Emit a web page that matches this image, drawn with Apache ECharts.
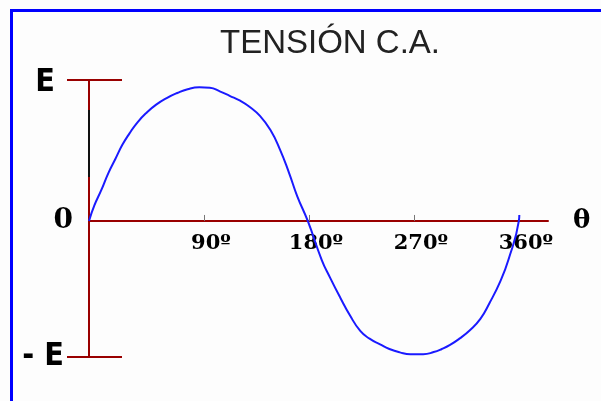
<!DOCTYPE html>
<html>
<head>
<meta charset="utf-8">
<script src="https://cdn.jsdelivr.net/npm/echarts@6/dist/echarts.min.js"></script>
<style>
  html, body { margin: 0; padding: 0; background: #fdfdfd; }
  #chart { width: 601px; height: 401px; }
</style>
</head>
<body>
<div id="chart"></div>
<script>
// Phase angle (degrees) of each sampled point along the wave
const thetaDeg = [-8.6, -4, 2, 8, 14, 20, 26, 33, 41, 49, 58, 67, 76, 86,
  95, 104, 112, 121, 129, 138, 147, 155, 163, 170, 179, 191, 198, 207,
  215, 224, 232, 241, 249, 258, 267, 278, 287, 294, 301, 309, 318, 327, 335,
  344, 351, 360, 360.4];
// Voltage of each point, as a fraction of the peak value E
const voltage = [0, 0.11, 0.22, 0.34, 0.44, 0.54, 0.62, 0.70, 0.77, 0.825, 0.872, 0.908, 0.935, 0.948,
  0.945, 0.918, 0.888, 0.853, 0.81, 0.745, 0.645, 0.51, 0.34, 0.175, 0, -0.277, -0.40, -0.546,
  -0.667, -0.78, -0.835, -0.875, -0.908, -0.932, -0.945, -0.945, -0.93, -0.908, -0.879, -0.835, -0.775, -0.695, -0.58,
  -0.43, -0.277, 0, 0.043];

// Angle ticks and their labels
const angleTicks = [90, 180, 270, 360];
const angleLabels = ['90º', '180º', '270º', '360º'];

// Voltage axis levels: +E, 0, -E
const levelValues = [1, 0, -0.965];
const levelLabels = ['E', '0', '- E'];

// Dark stretch of the voltage axis
const axisDarkPart = [0.787, 0.312];

const thetaMin = -8.6, thetaMax = 385;
const red = '#990000';

// Plot box
const gridTop = 80, gridBottom = 44, chartH = 401;
const plotH = chartH - gridTop - gridBottom;
// Lift the angle axis from the bottom edge up to the zero level
const zeroLift = plotH * (0 - levelValues[2]) / (levelValues[0] - levelValues[2]);

const wave = thetaDeg.map((t, i) => [t, voltage[i]]);

const chart = echarts.init(document.getElementById('chart'), null, { renderer: 'canvas' });

const levelFormatter = function (v) {
  const i = levelValues.indexOf(v);
  if (i === 1) return '{z|' + levelLabels[i] + '}';
  if (i === 0) return '{e|' + levelLabels[i] + '}';
  return '{ne|' + levelLabels[i] + '}';
};

const sansNarrow = 'DejaVu Sans Condensed, Liberation Sans Narrow, Liberation Sans';

chart.setOption({
  backgroundColor: '#fdfdfd',
  animation: false,
  title: {
    text: 'TENSIÓN C.A.',
    left: 215,
    top: 22,
    textStyle: {
      fontFamily: 'Liberation Sans',
      fontWeight: 'normal',
      fontSize: 33,
      color: '#222'
    }
  },
  graphic: [
    { type: 'rect', left: 10, top: 9, shape: { width: 3, height: 392 }, style: { fill: '#0000ff' } },
    { type: 'rect', left: 10, top: 9, shape: { width: 591, height: 3 }, style: { fill: '#0000ff' } }
  ],
  grid: { left: 89, right: 53, top: gridTop, bottom: gridBottom, containLabel: false, outerBoundsMode: 'none' },
  xAxis: {
    type: 'value',
    min: thetaMin,
    max: thetaMax,
    position: 'bottom',
    offset: -zeroLift,
    name: 'θ',
    nameLocation: 'end',
    nameGap: 25,
    nameTextStyle: {
      fontFamily: 'DejaVu Serif',
      fontWeight: 'bold',
      fontSize: 26,
      color: '#000',
      verticalAlign: 'middle'
    },
    axisLine: { onZero: false, lineStyle: { color: red, width: 2 } },
    axisTick: {
      show: true,
      inside: true,
      length: 6,
      customValues: angleTicks,
      lineStyle: { color: '#777', width: 1 }
    },
    axisLabel: {
      show: true,
      customValues: angleTicks,
      margin: 12,
      formatter: function (v) { return angleLabels[angleTicks.indexOf(v)]; },
      fontFamily: 'DejaVu Serif',
      fontWeight: 'bold',
      fontSize: 21,
      color: '#000',
      padding: [0, 0, 0, 14]
    },
    splitLine: { show: false }
  },
  yAxis: [
    {
      type: 'value',
      min: levelValues[2],
      max: levelValues[0],
      axisLine: { show: true, onZero: false, lineStyle: { color: red, width: 2 } },
      axisTick: {
        show: true,
        inside: false,
        length: 22,
        customValues: [levelValues[0], levelValues[2]],
        lineStyle: { color: red, width: 2 }
      },
      axisLabel: {
        show: true,
        customValues: levelValues,
        margin: 16,
        formatter: levelFormatter,
        rich: {
          e: { fontFamily: sansNarrow, fontWeight: 'bold', fontSize: 32, color: '#000', padding: [6, 18, 0, 0] },
          ne: { fontFamily: sansNarrow, fontWeight: 'bold', fontSize: 32, color: '#000', padding: [0, 9, 0, 0] },
          z: { fontFamily: 'DejaVu Serif', fontWeight: 'bold', fontSize: 28, color: '#000' }
        }
      },
      splitLine: { show: false }
    },
    {
      type: 'value',
      min: levelValues[2],
      max: levelValues[0],
      position: 'left',
      axisLine: { show: false, onZero: false },
      axisTick: {
        show: true,
        inside: true,
        length: 33,
        customValues: [levelValues[0], levelValues[2]],
        lineStyle: { color: red, width: 2 }
      },
      axisLabel: { show: false },
      splitLine: { show: false }
    }
  ],
  series: [
    {
      name: 'axisDark',
      type: 'line',
      data: axisDarkPart.map(v => [thetaMin, v]),
      clip: false,
      symbol: 'none',
      lineStyle: { color: '#111', width: 2 },
      z: 3
    },
    {
      name: 'tension',
      type: 'line',
      data: wave,
      smooth: 0.5,
      clip: false,
      symbol: 'none',
      lineStyle: { color: '#1a1aff', width: 2 },
      z: 4
    }
  ]
});
</script>
</body>
</html>
